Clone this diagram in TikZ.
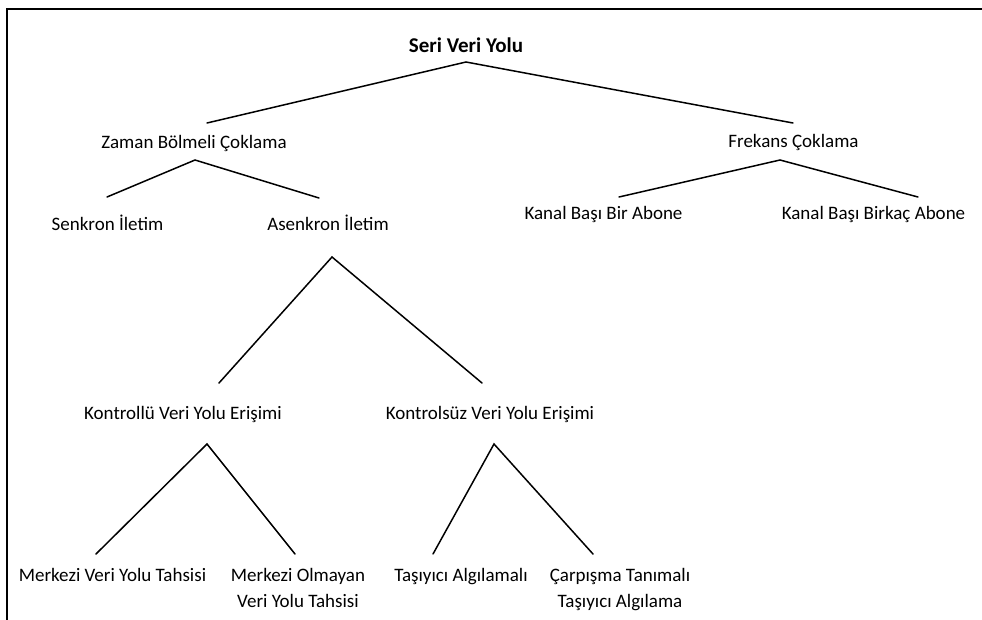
\documentclass[tikz,border=0pt]{standalone}
\usepackage{fontspec}
\setmainfont{Carlito}
\begin{document}
\begin{tikzpicture}[x=1pt,y=-1pt,
  label/.style={inner sep=0pt,anchor=base,font=\fontsize{19}{26}\selectfont,align=center},
  title/.style={inner sep=0pt,anchor=base,font=\fontsize{21}{25}\selectfont\bfseries},
  branch/.style={line width=1.5pt,line cap=round,line join=miter}]
\useasboundingbox (0,0) rectangle (982,619);
\fill[white] (0,0) rectangle (982,619);

% frame
\draw[line width=2.8pt] (7,625) -- (7,9) -- (990,9);

% labels (two-line labels sit on the baseline of their last line)
\node[title] (seri) at (466,52) {Seri Veri Yolu};
\node[label] (zaman) at (194,148) {Zaman Bölmeli Çoklama};
\node[label] (frekans) at (793.5,147) {Frekans Çoklama};
\node[label] (senkron) at (107.5,230) {Senkron İletim};
\node[label] (asenkron) at (328,230) {Asenkron İletim};
\node[label] (kbir) at (603.5,219) {Kanal Başı Bir Abone};
\node[label] (kbirkac) at (873.5,219) {Kanal Başı Birkaç Abone};
\node[label] (kontrollu) at (183,419) {Kontrollü Veri Yolu Erişimi};
\node[label] (kontrolsuz) at (490,419) {Kontrolsüz Veri Yolu Erişimi};
\node[label] (merkezi) at (112.5,581) {Merkezi Veri Yolu Tahsisi};
\node[label] (merkezsiz) at (298,607) {Merkezi Olmayan\\Veri Yolu Tahsisi};
\node[label] (tasiyici) at (461,581) {Taşıyıcı Algılamalı};
\node[label] (carpisma) at (620,607) {Çarpışma Tanımalı\\Taşıyıcı Algılama};

% branch points
\coordinate (seri-f) at (466,62);
\coordinate (zaman-in) at (207,123);
\coordinate (frekans-in) at (793,123);
\coordinate (zaman-f) at (195,160);
\coordinate (senkron-in) at (107,197);
\coordinate (asenkron-in) at (319,198);
\coordinate (frekans-f) at (780,160);
\coordinate (kbir-in) at (619,197);
\coordinate (kbirkac-in) at (918,197);
\coordinate (asenkron-f) at (332,257);
\coordinate (kontrollu-in) at (219,383);
\coordinate (kontrolsuz-in) at (482,383);
\coordinate (kontrollu-f) at (207,444);
\coordinate (merkezi-in) at (96,554);
\coordinate (merkezsiz-in) at (295,554);
\coordinate (kontrolsuz-f) at (494,444);
\coordinate (tasiyici-in) at (433,554);
\coordinate (carpisma-in) at (593,554);

% connectors
\draw[branch] (zaman-in) -- (seri-f) -- (frekans-in);
\draw[branch] (senkron-in) -- (zaman-f) -- (asenkron-in);
\draw[branch] (kbir-in) -- (frekans-f) -- (kbirkac-in);
\draw[branch] (kontrollu-in) -- (asenkron-f) -- (kontrolsuz-in);
\draw[branch] (merkezi-in) -- (kontrollu-f) -- (merkezsiz-in);
\draw[branch] (tasiyici-in) -- (kontrolsuz-f) -- (carpisma-in);
\end{tikzpicture}
\end{document}
